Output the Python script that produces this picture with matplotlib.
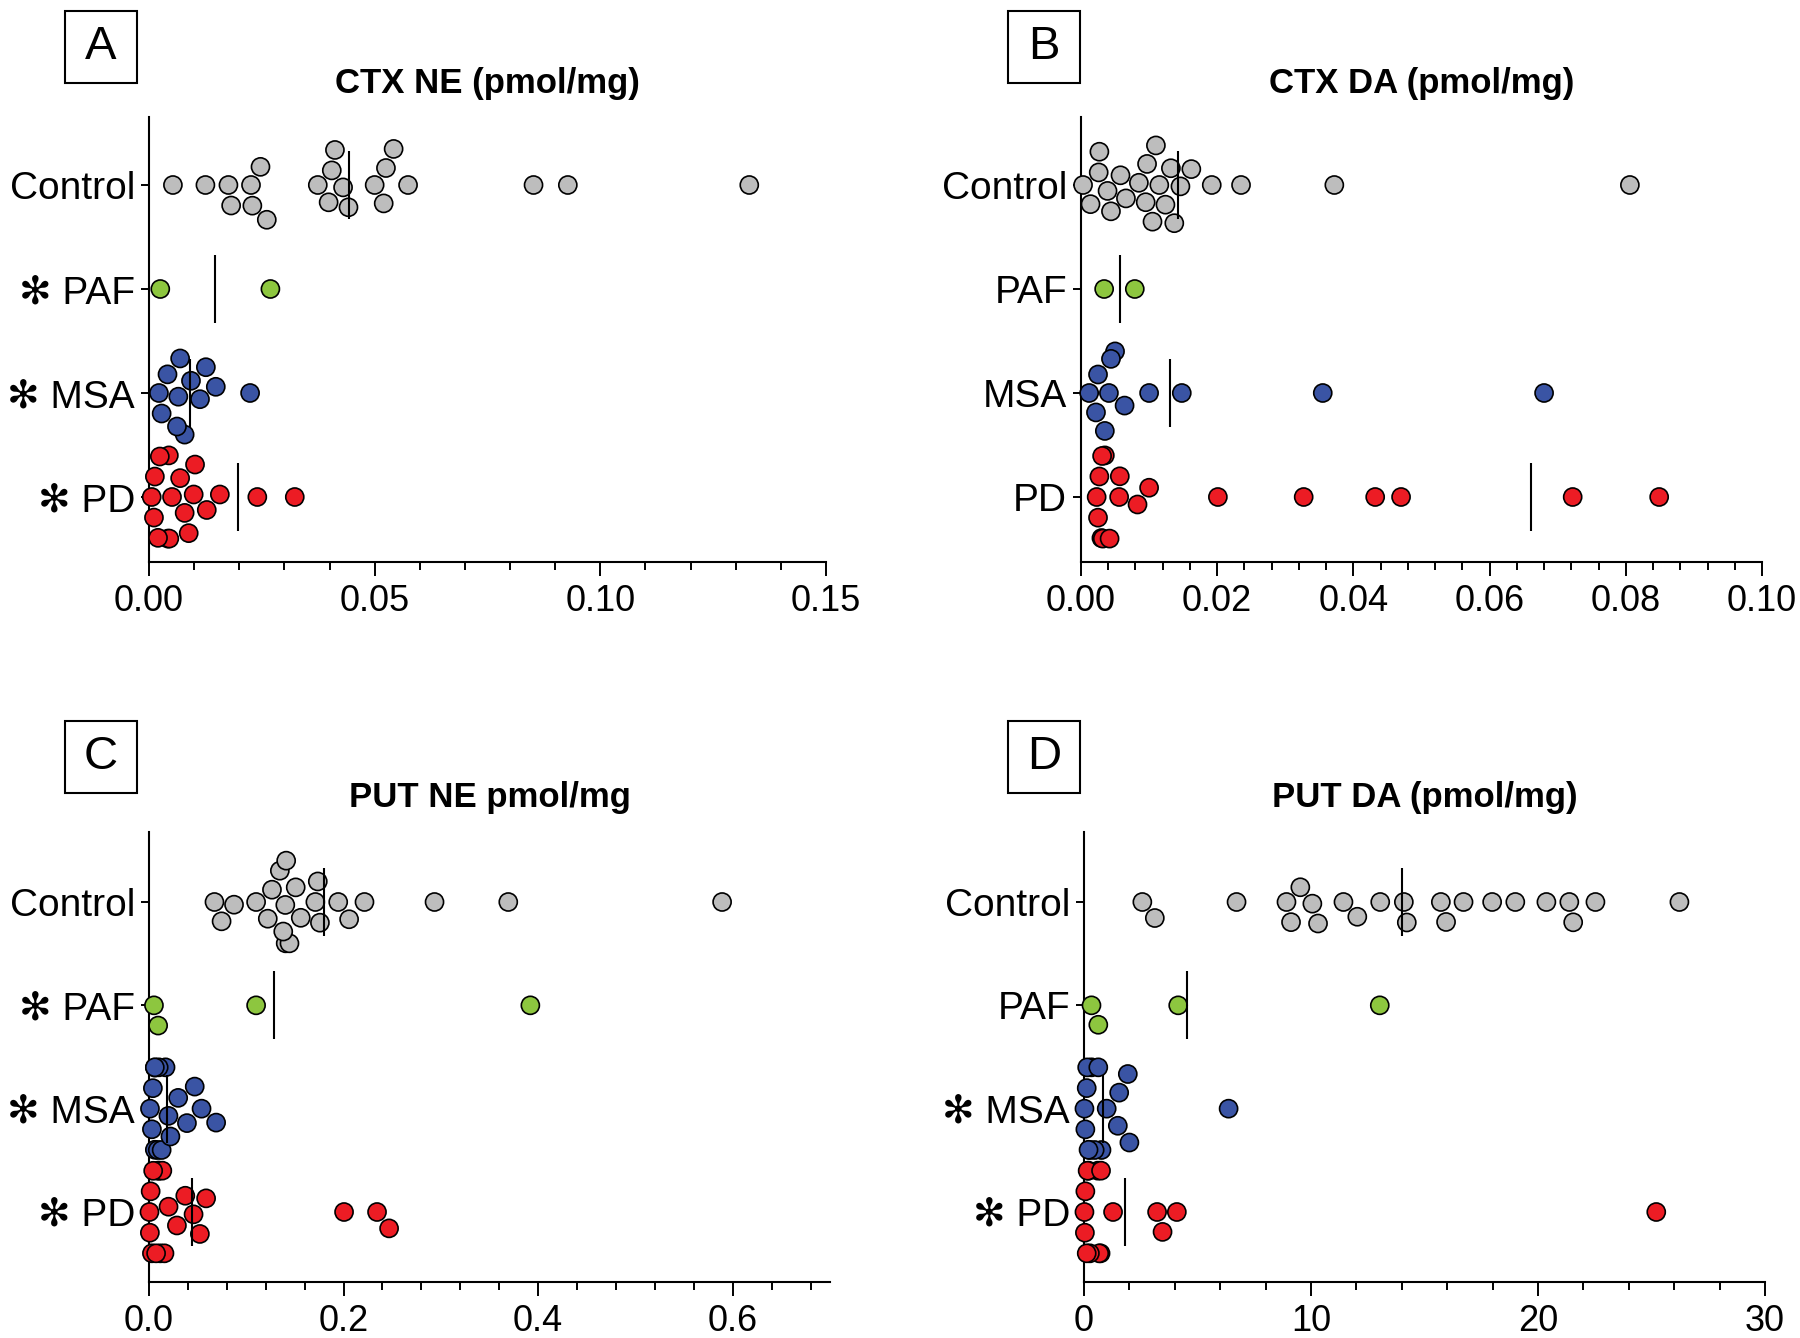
import matplotlib
matplotlib.use("Agg")
import matplotlib.pyplot as plt
from matplotlib.patches import Rectangle
from matplotlib.ticker import MultipleLocator, FormatStrFormatter
import numpy as np
import pandas as pd
import seaborn as sns
import warnings

warnings.filterwarnings("ignore")

plt.rcParams['font.family'] = ['Liberation Sans', 'DejaVu Sans']

groups = ["Control", "PAF", "MSA", "PD"]
group_colors = {"Control": "#bdbdbd", "PAF": "#8dc63f", "MSA": "#3a54a4", "PD": "#ec1c24"}
STAR = "\u273B"

# A: CTX NE (pmol/mg)
ctx_ne_control = [0.0053, 0.0125, 0.0176, 0.0182, 0.0226, 0.0229, 0.0247, 0.0261, 0.0374, 0.0398, 0.0405,
                  0.0412, 0.0430, 0.0442, 0.0500, 0.0520, 0.0525, 0.0542, 0.0574, 0.0852, 0.0928, 0.1330]
ctx_ne_paf = [0.0025, 0.0269]
ctx_ne_msa = [0.0069, 0.0028, 0.0065, 0.0113, 0.0041, 0.0079, 0.0148, 0.0224, 0.0022, 0.0062, 0.0126, 0.0093]
ctx_ne_pd = [0.0042, 0.0006, 0.0045, 0.0079, 0.0128, 0.0069, 0.0020, 0.0013, 0.0102, 0.0157, 0.0240, 0.0323,
             0.0099, 0.0011, 0.0051, 0.0088, 0.0044, 0.0024]
ctx_ne_lines = [0.0443, 0.0147, 0.0090, 0.0197]

# B: CTX DA (pmol/mg)
ctx_da_control = [0.0095, 0.0137, 0.0014, 0.0039, 0.0066, 0.0115, 0.0162, 0.0026, 0.0105, 0.0132, 0.0192, 0.0235,
                  0.0372, 0.0806, 0.0003, 0.0027, 0.0058, 0.0085, 0.0110, 0.0146, 0.0097, 0.0124, 0.0044]
ctx_da_paf = [0.0034, 0.0079]
ctx_da_msa = [0.0041, 0.0022, 0.0064, 0.0025, 0.0050, 0.0100, 0.0148, 0.0355, 0.0680, 0.0012, 0.0035, 0.0044]
ctx_da_pd = [0.0030, 0.0025, 0.0032, 0.0023, 0.0035, 0.0057, 0.0083, 0.0100, 0.0201, 0.0327, 0.0432, 0.0470,
             0.0722, 0.0849, 0.0031, 0.0042, 0.0027, 0.0056]
ctx_da_lines = [0.0142, 0.0057, 0.0131, 0.0661]

# C: PUT NE pmol/mg
put_ne_control = [0.1345, 0.1508, 0.0746, 0.1405, 0.1710, 0.2057, 0.0874, 0.1101, 0.1264, 0.1444, 0.1757, 0.1945,
                  0.2215, 0.2935, 0.3693, 0.5891, 0.0673, 0.1221, 0.1401, 0.1560, 0.1735, 0.1380, 0.1410]
put_ne_paf = [0.0094, 0.1101, 0.3920, 0.0051]
put_ne_msa = [0.006, 0.009, 0.003, 0.017, 0.006, 0.030, 0.039, 0.047, 0.054, 0.069, 0.001, 0.020, 0.010,
              0.006, 0.013, 0.004, 0.022]
put_ne_pd = [0.0116, 0.0103, 0.0017, 0.0094, 0.0005, 0.0201, 0.0287, 0.0373, 0.0458, 0.0523, 0.0587, 0.0030,
             0.0009, 0.0137, 0.0159, 0.0043, 0.0073, 0.2005, 0.2344, 0.2468]
put_ne_lines = [0.1795, 0.129, 0.018, 0.0441]

# D: PUT DA (pmol/mg)
put_da_control = [9.12, 10.06, 3.12, 14.22, 15.95, 21.38, 6.72, 8.92, 11.43, 13.05, 16.72, 17.98, 19.00, 20.37,
                  22.53, 26.23, 2.57, 14.09, 15.72, 21.55, 9.53, 10.31, 12.04]
put_da_paf = [0.63, 4.15, 13.03, 0.33]
put_da_msa = [0.26, 0.06, 0.33, 0.12, 0.77, 1.49, 1.93, 2.00, 1.55, 0.47, 0.02, 0.14, 0.63, 6.37, 0.20, 1.00]
put_da_pd = [0.06, 0.61, 0.20, 0.02, 0.73, 0.16, 1.28, 0.67, 0.04, 0.26, 0.75, 0.12, 3.22, 3.46, 4.09, 25.21]
put_da_lines = [14.03, 4.54, 0.84, 1.79]

panels = [
    dict(letter="A", title="CTX NE (pmol/mg)", data=[ctx_ne_control, ctx_ne_paf, ctx_ne_msa, ctx_ne_pd],
         lines=ctx_ne_lines, stars=[False, True, True, True], xmax=0.15, major=0.05, minor=0.01, fmt="%.2f"),
    dict(letter="B", title="CTX DA (pmol/mg)", data=[ctx_da_control, ctx_da_paf, ctx_da_msa, ctx_da_pd],
         lines=ctx_da_lines, stars=[False, False, False, False], xmax=0.10, major=0.02, minor=0.004, fmt="%.2f"),
    dict(letter="C", title="PUT NE pmol/mg", data=[put_ne_control, put_ne_paf, put_ne_msa, put_ne_pd],
         lines=put_ne_lines, stars=[False, True, True, True], xmax=0.70, major=0.2, minor=0.04, fmt="%.1f"),
    dict(letter="D", title="PUT DA (pmol/mg)", data=[put_da_control, put_da_paf, put_da_msa, put_da_pd],
         lines=put_da_lines, stars=[False, False, True, True], xmax=30, major=10, minor=2, fmt="%d"),
]

W, H = 1800, 1338
fig = plt.figure(figsize=(18, 13.38), dpi=100)

# axes boxes in pixels: left, right, top, bottom ; row centres (Control, PD)
boxes = [
    (149, 826, 117, 562, 185, 497),
    (1081, 1762, 117, 562, 185, 497),
    (149, 830, 832, 1282, 902, 1212),
    (1084, 1765, 832, 1282, 902, 1212),
]
letter_boxes = [(65, 11), (1008, 11), (65, 721), (1008, 721)]
title_y = [84, 84, 798, 798]

for p, (l, r, t, b, yc0, yc3), (bx, by), ty in zip(panels, boxes, letter_boxes, title_y):
    ax = fig.add_axes([l / W, 1 - b / H, (r - l) / W, (b - t) / H])
    rows = []
    for g, vals in zip(groups, p["data"]):
        for v in vals:
            rows.append((g, v))
    df = pd.DataFrame(rows, columns=["group", "value"])
    sns.swarmplot(data=df, x="value", y="group", hue="group", order=groups, hue_order=groups,
                  palette=group_colors, size=13, edgecolor="black", linewidth=1.2,
                  orient="h", legend=False, ax=ax, zorder=3)
    for c in ax.collections:
        c.set_clip_on(False)

    step = (yc3 - yc0) / 3
    ax.set_ylim(3 + (b - yc3) / step, -(yc0 - t) / step)
    ax.set_xlim(0, p["xmax"])

    for i, m in enumerate(p["lines"]):
        ax.plot([m, m], [i - 0.33, i + 0.33], color="black", lw=1.5, zorder=5, solid_capstyle="butt")

    labels = [(STAR + " " + g) if s else g for g, s in zip(groups, p["stars"])]
    ax.set_yticks(range(4))
    ax.set_yticklabels(labels, fontsize=28)
    ax.set_xlabel("")
    ax.set_ylabel("")

    ax.xaxis.set_major_locator(MultipleLocator(p["major"]))
    ax.xaxis.set_minor_locator(MultipleLocator(p["minor"]))
    ax.xaxis.set_major_formatter(FormatStrFormatter(p["fmt"]))
    ax.tick_params(axis="x", which="major", length=10, width=1.4, labelsize=26, pad=6)
    ax.tick_params(axis="x", which="minor", length=6, width=1.4)
    ax.tick_params(axis="y", length=6, width=1.4, pad=4)

    for s in ["top", "right"]:
        ax.spines[s].set_visible(False)
    for s in ["left", "bottom"]:
        ax.spines[s].set_linewidth(1.5)

    fig.text((l + r) / 2 / W, 1 - ty / H, p["title"], fontsize=25, fontweight="bold",
             ha="center", va="center")

    fig.patches.append(Rectangle((bx / W, 1 - (by + 72) / H), 72 / W, 72 / H, transform=fig.transFigure,
                                 fill=False, edgecolor="black", linewidth=1.5))
    fig.text((bx + 36) / W, 1 - (by + 36) / H, p["letter"], fontsize=34, ha="center", va="center")

fig.savefig("out.png", dpi=100)
